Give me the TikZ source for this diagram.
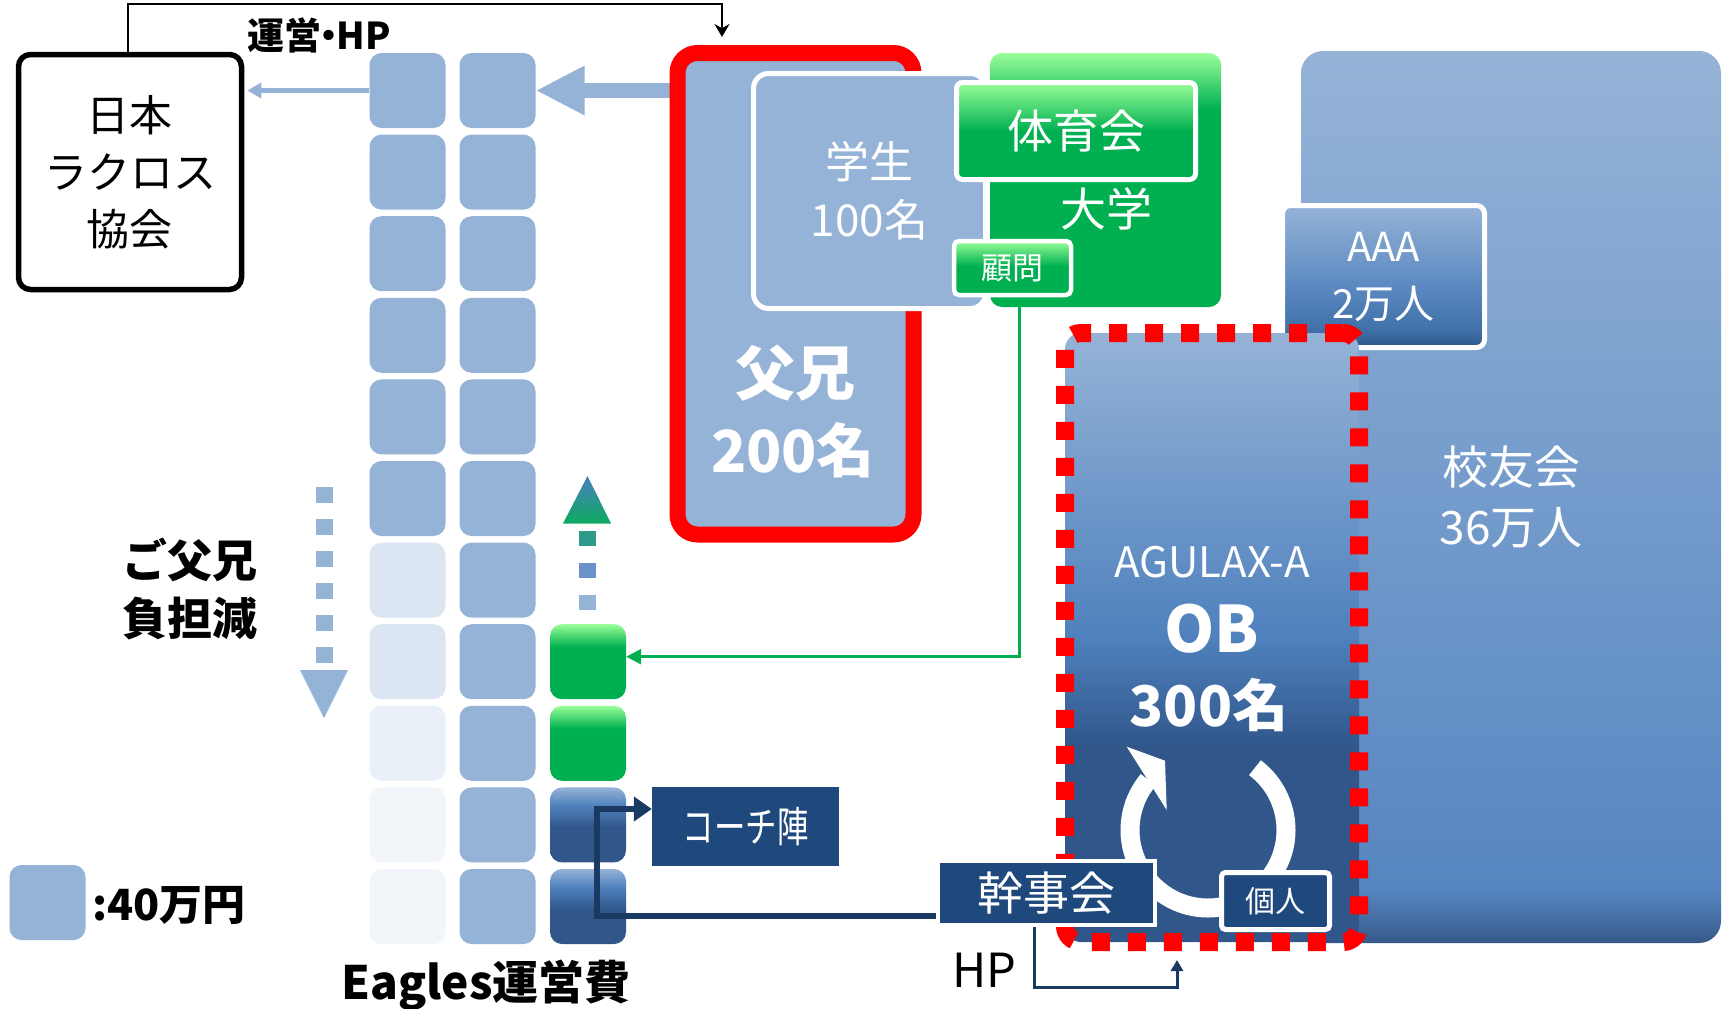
\documentclass[tikz,border=0pt]{standalone}
\usepackage{fontspec}
\setmainfont{Noto Sans CJK JP}
\usepackage{graphicx}
\usetikzlibrary{arrows.meta,calc}

\definecolor{sqblue}{HTML}{95B3D7}
\definecolor{fadeA}{HTML}{DCE6F2}
\definecolor{fadeB}{HTML}{EAF0F8}
\definecolor{fadeC}{HTML}{F2F5FA}
\definecolor{grn}{HTML}{00B050}
\definecolor{lgrn}{HTML}{99FF99}
\definecolor{navy}{HTML}{1F497D}
\definecolor{navyline}{HTML}{1A3A63}
\definecolor{midblue}{HTML}{4F81BD}
\definecolor{darkblue}{HTML}{30568A}
\definecolor{kyB}{HTML}{5686C1}
\definecolor{kyC}{HTML}{36598A}
\definecolor{aaaB}{HTML}{5A88C0}
\definecolor{aaaC}{HTML}{4070A8}
\definecolor{aaaD}{HTML}{2F5584}
\definecolor{arrTeal}{HTML}{2E9A8A}
\definecolor{arrBlue}{HTML}{6A92C8}
\definecolor{triTop}{HTML}{4A7FBF}
\definecolor{triBot}{HTML}{0DAA60}

\pgfdeclareverticalshading{shKoyu}{100bp}{color(0bp)=(kyC); color(25bp)=(kyC); color(28bp)=(kyB); color(75bp)=(sqblue); color(100bp)=(sqblue)}
\pgfdeclareverticalshading{shOB}{100bp}{color(0bp)=(darkblue); color(25bp)=(darkblue); color(41bp)=(darkblue); color(50bp)=(midblue); color(75bp)=(sqblue); color(100bp)=(sqblue)}
\pgfdeclareverticalshading{shAAA}{100bp}{color(0bp)=(aaaD); color(25bp)=(aaaD); color(31bp)=(aaaC); color(46bp)=(aaaB); color(75bp)=(sqblue); color(100bp)=(sqblue)}
\pgfdeclareverticalshading{shNavySq}{100bp}{color(0bp)=(darkblue); color(25bp)=(darkblue); color(48bp)=(darkblue); color(63bp)=(midblue); color(75bp)=(sqblue); color(100bp)=(sqblue)}
\pgfdeclareverticalshading{shGrnSq}{100bp}{color(0bp)=(grn); color(25bp)=(grn); color(60bp)=(grn); color(75bp)=(lgrn); color(100bp)=(lgrn)}
\pgfdeclareverticalshading{shDaigaku}{100bp}{color(0bp)=(grn); color(25bp)=(grn); color(64bp)=(grn); color(75bp)=(lgrn); color(100bp)=(lgrn)}
\pgfdeclareverticalshading{shTaiiku}{100bp}{color(0bp)=(grn); color(25bp)=(grn); color(50bp)=(grn); color(75bp)=(lgrn); color(100bp)=(lgrn)}
\pgfdeclareverticalshading{shKomon}{100bp}{color(0bp)=(grn); color(25bp)=(grn); color(52bp)=(grn); color(75bp)=(lgrn); color(100bp)=(lgrn)}

\tikzset{
  sq/.style={rectangle, rounded corners=12pt, minimum width=76pt, minimum height=75pt, inner sep=0pt, draw=none},
  wtext/.style={text=white, inner sep=0pt},
  btext/.style={text=black, inner sep=0pt},
}

\begin{document}
\begin{tikzpicture}[x=1pt,y=-1pt]
\useasboundingbox (0,0) rectangle (1722,1009);
\fill[white] (0,0) rectangle (1722,1009);

% ---------- squares ----------
\foreach \r/\c in {0/sqblue,1/sqblue,2/sqblue,3/sqblue,4/sqblue,5/sqblue,6/fadeA,7/fadeA,8/fadeB,9/fadeC,10/fadeC}
  \node[sq, fill=\c] (c1r\r) at (407.5, {90.5+81.6*\r}) {};
\foreach \r in {0,...,10}
  \node[sq, fill=sqblue] (c2r\r) at (497.5, {90.5+81.6*\r}) {};
\node[sq, shade, shading=shGrnSq] (c3r7) at (588, {90.5+81.6*7}) {};
\node[sq, shade, shading=shGrnSq] (c3r8) at (588, {90.5+81.6*8}) {};
\node[sq, shade, shading=shNavySq] (c3r9) at (588, {90.5+81.6*9}) {};
\node[sq, shade, shading=shNavySq] (c3r10) at (588, {90.5+81.6*10}) {};

% legend
\node[sq, fill=sqblue] (leg) at (47.5, 902.5) {};
\node[btext, anchor=west, font=\bfseries\fontsize{43}{43}\selectfont] (legtxt) at (92, 905) {:40万円};

% ---------- Japan Lacrosse Association ----------
\node[draw=black, line width=5.5pt, rounded corners=12pt, fill=white, minimum width=223pt, minimum height=235pt,
      align=center, font=\fontsize{43}{57}\selectfont] (jla) at (130,172) {日本\\ラクロス\\協会};

% ---------- big arrow from parents box ----------
\draw[sqblue, line width=15pt, -{Triangle[length=49pt, width=46pt]}] ($(677.5,0 |- c2r0.east)+(-4,0)$) -- (c2r0.east);

% ---------- parents box ----------
\node[draw=red, line width=16pt, rounded corners=20pt, fill=sqblue, minimum width=236pt, minimum height=481.5pt] (fukei) at (795.5, 293.75) {};
\node[wtext, font=\bfseries\fontsize{60}{60}\selectfont] (fukeitxt) at (795, 373) {父兄};
\node[wtext, font=\bfseries\fontsize{58}{58}\selectfont] (fukeinum) at (793, 450) {200名};

% ---------- university ----------
\node[shade, shading=shDaigaku, rounded corners=12pt, minimum width=231pt, minimum height=254pt] (daigaku) at (1105.5, 180) {};
\node[wtext, font=\fontsize{46}{46}\selectfont] (daigakutxt) at (1106, 209) {大学};
\node[draw=white, line width=5pt, rounded corners=15pt, fill=sqblue, minimum width=232pt, minimum height=235pt,
      align=center, text=white, font=\fontsize{44}{58}\selectfont] (gakusei) at (869.5, 191) {学生\\100名};
\node[draw=white, line width=5pt, rounded corners=6pt, shade, shading=shTaiiku, minimum width=239pt, minimum height=97pt,
      text=white, font=\fontsize{46}{46}\selectfont] (taiiku) at (1076, 131) {体育会};
\node[draw=white, line width=4.5pt, rounded corners=5pt, shade, shading=shKomon, minimum width=117pt, minimum height=54pt,
      text=white, font=\fontsize{31}{31}\selectfont] (komon) at (1012.5, 268) {顧問};

% ---------- alumni ----------
\node[shade, shading=shKoyu, rounded corners=22pt, minimum width=420pt, minimum height=892pt,
      align=center, text=white, font=\fontsize{46}{60}\selectfont] (koyu) at (1511, 497) {校友会\\36万人};
\node[draw=white, line width=5pt, rounded corners=8pt, shade, shading=shAAA, minimum width=202pt, minimum height=142pt,
      align=center, text=white, font=\fontsize{40}{57}\selectfont] (aaa) at (1383.5, 276.5) {AAA\\2万人};
\node[shade, shading=shOB, draw=red, line width=18pt, dash pattern=on 18pt off 18pt, rounded corners=16pt,
      minimum width=294pt, minimum height=609pt] (ob) at (1212, 637.5) {};
\node[wtext, font=\fontsize{42}{42}\selectfont] (obtitle) at (1212, 562) {AGULAX-A};
\node[wtext, font=\bfseries\fontsize{64}{64}\selectfont] (obmain) at (1212, 629) {OB};
\node[wtext, font=\bfseries\fontsize{56}{56}\selectfont] (obcount) at (1209, 705) {300名};

% cycle arrow
\coordinate (cyc) at (1208,830);
\draw[white, line width=19pt] ($(cyc)+(-53:78)$) arc[start angle=-53, end angle=220, radius=78];
\fill[white] (1126.7,746.7) -- (1165,760.7) -- (1166.7,810) -- cycle;

\node[draw=white, line width=4pt, fill=navy, minimum width=217pt, minimum height=64pt,
      text=white, font=\fontsize{46}{46}\selectfont] (kanji) at (1046.5, 893) {幹事会};
\node[draw=white, line width=5pt, rounded corners=4pt, fill=navy, minimum width=108pt, minimum height=57pt,
      text=white, font=\fontsize{30}{30}\selectfont] (kojin) at (1275.5, 901) {個人};

% ---------- coaches ----------
\node[fill=navy, minimum width=187pt, minimum height=79pt, text=white, font=\fontsize{42}{42}\selectfont] (coach) at (745.5, 826.5) {\scalebox{0.75}[1]{コーチ陣}};

% ---------- connectors ----------
\draw[navyline, line width=6pt, -{Triangle[length=18pt, width=24pt]}]
  ($(kanji.west)+(0,23)$) -- ++(-339,0) |- ($(coach.west)+(0,-17.5)$);
\draw[navyline, line width=3pt, -{Triangle[length=11pt, width=12pt]}]
  ($(kanji.south)+(-12,0)$) -- ++(0,60) -| ($(ob.south)+(-35,9)$);
\node[btext, font=\fontsize{47}{47}\selectfont] (hplabel) at (984, 970) {HP};

\draw[grn, line width=2.5pt, -{Triangle[length=15pt, width=15pt]}]
  ($(daigaku.south)+(-86,0)$) |- ($(c3r7.east)+(0,-5)$);

\draw[sqblue, line width=5pt, -{Triangle[length=14pt, width=15pt]}]
  (c1r0.west) -- ($(jla.east |- c1r0.west)+(3,0)$);

\draw[black, line width=2pt, -{Stealth[length=13pt, width=15pt]}]
  ($(jla.north)+(-2.5,0)$) -- ++(0,-47.5) -| ($(fukei.north)+(-73.5,-8)$);
\node[btext, font=\bfseries\fontsize{37}{37}\selectfont] (unei) at (319, 35) {運営\kern-0.3em・\kern-0.3em HP};

% ---------- decrease arrow ----------
\coordinate (dnA) at (324.5,487);
\coordinate (dnB) at (324.5,663);
\draw[sqblue, line width=17pt, dash pattern=on 16pt off 16pt] (dnA) -- (dnB);
\fill[sqblue] (300,670) -- (348,670) -- (324,718) -- cycle;
\node[btext, align=center, font=\bfseries\fontsize{45}{58}\selectfont] (futan) at (190, 589) {ご父兄\\負担減};

% ---------- increase arrow ----------
\fill[arrTeal] (579,531) rectangle (595.5,546);
\fill[arrBlue] (579,563) rectangle (595.5,578);
\fill[sqblue] (579,595) rectangle (595.5,610);
\shade[top color=triTop, bottom color=triBot] (587.5,476) -- (611,523.5) -- (563,523.5) -- cycle;

\node[btext, font=\bfseries\fontsize{46}{46}\selectfont] (eagles) at (486, 985) {Eagles運営費};
\end{tikzpicture}
\end{document}
